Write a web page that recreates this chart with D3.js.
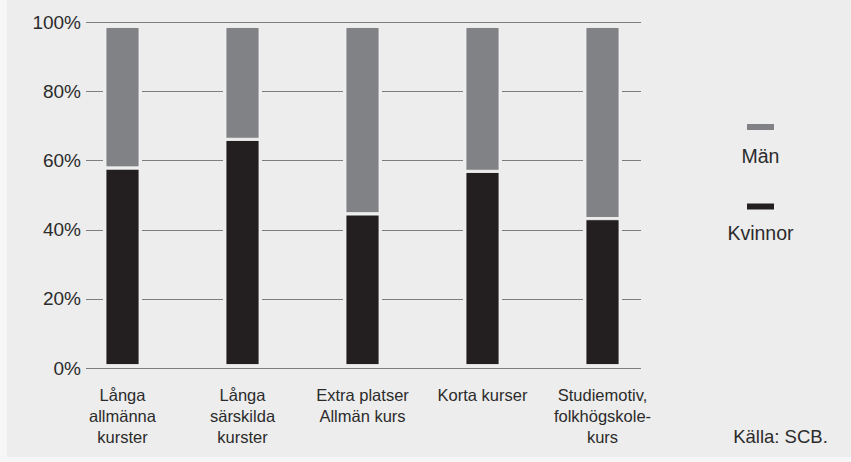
<!DOCTYPE html>
<html>
<head>
<meta charset="utf-8">
<script src="https://cdn.jsdelivr.net/npm/d3@7"></script>
<style>
  html, body { margin: 0; padding: 0; background: #f6f6f6; }
  svg { display: block; }
  text { font-family: "Liberation Sans", Arial, sans-serif; fill: #2b2b2b; }
</style>
</head>
<body>
<svg id="chart" width="851" height="462"></svg>
<script>
// ---- data ----
const categories = [
  ["Långa", "allmänna", "kurster"],
  ["Långa", "särskilda", "kurster"],
  ["Extra platser", "Allmän kurs"],
  ["Korta kurser"],
  ["Studiemotiv,", "folkhögskole-", "kurs"]
];
const categoryKeys = ["lal", "las", "epak", "kk", "sfk"];
const kvinnor = [58.3, 66.8, 44.7, 57.3, 43.3];
const man = [41.7, 33.2, 55.3, 42.7, 56.7];
const yTicks = [0, 20, 40, 60, 80, 100];
const seriesNames = ["Män", "Kvinnor"];
const source = "Källa: SCB.";

// ---- styles ----
const bg = "#ededed";
const colMan = "#808285";
const colKv = "#231f20";

const svg = d3.select("#chart");
svg.append("rect").attr("x", 7).attr("y", 0).attr("width", 844).attr("height", 457).attr("fill", bg);

const x = d3.scaleBand().domain(categoryKeys).range([62.5, 662.5]).paddingInner(0.725).paddingOuter(0.3625);
const y = d3.scaleLinear().domain([0, 100]).range([368, 22]);
const yBar = d3.scaleLinear().domain([0, 100]).range([364.5, 27.5]);

// gridlines
svg.append("g").selectAll("line").data(yTicks).join("line")
  .attr("x1", 86).attr("x2", 641)
  .attr("y1", d => Math.round(y(d)) + 0.5).attr("y2", d => Math.round(y(d)) + 0.5)
  .attr("stroke", "#707070").attr("stroke-width", 0.9);

// y tick labels
svg.append("g").selectAll("text").data(yTicks).join("text")
  .attr("x", 81).attr("y", d => y(d) + 6.5)
  .attr("text-anchor", "end").attr("font-size", "19px")
  .text(d => d + "%");

// bars
const bars = svg.append("g").selectAll("g").data(categoryKeys).join("g");
bars.append("rect")
  .attr("x", d => x(d) - 3).attr("width", x.bandwidth() + 6)
  .attr("y", yBar(100) - 3).attr("height", yBar(0) - yBar(100) + 6)
  .attr("fill", bg);
bars.append("rect")
  .attr("x", d => x(d)).attr("width", x.bandwidth())
  .attr("y", (d, i) => yBar(kvinnor[i]) + 1.2)
  .attr("height", (d, i) => yBar(0) - yBar(kvinnor[i]) - 1.2)
  .attr("fill", colKv).attr("stroke", "#f4f4f4").attr("stroke-width", 0.8);
bars.append("rect")
  .attr("x", d => x(d)).attr("width", x.bandwidth())
  .attr("y", yBar(100))
  .attr("height", (d, i) => yBar(kvinnor[i]) - yBar(100) - 1.2)
  .attr("fill", colMan).attr("stroke", "#f4f4f4").attr("stroke-width", 0.8);

// category labels
const labels = svg.append("g").selectAll("text").data(categoryKeys).join("text")
  .attr("text-anchor", "middle").attr("font-size", "16.5px")
  .attr("transform", d => `translate(${x(d) + x.bandwidth() / 2},401)`);
labels.selectAll("tspan").data((d, i) => categories[i]).join("tspan")
  .attr("x", 0).attr("y", (d, j) => j * 21)
  .text(d => d);

// legend
const legend = svg.append("g");
const legendItems = [
  { name: seriesNames[0], color: colMan, sy: 124, ty: 163 },
  { name: seriesNames[1], color: colKv, sy: 203.5, ty: 239.5 }
];
legendItems.forEach(it => {
  legend.append("rect").attr("x", 747).attr("y", it.sy).attr("width", 27).attr("height", 6).attr("fill", it.color);
  legend.append("text").attr("x", 760.5).attr("y", it.ty).attr("text-anchor", "middle")
    .attr("font-size", "19.5px").text(it.name);
});

// source
svg.append("text").attr("x", 780.5).attr("y", 443).attr("text-anchor", "middle")
  .attr("font-size", "18.5px").text(source);
</script>
</body>
</html>
